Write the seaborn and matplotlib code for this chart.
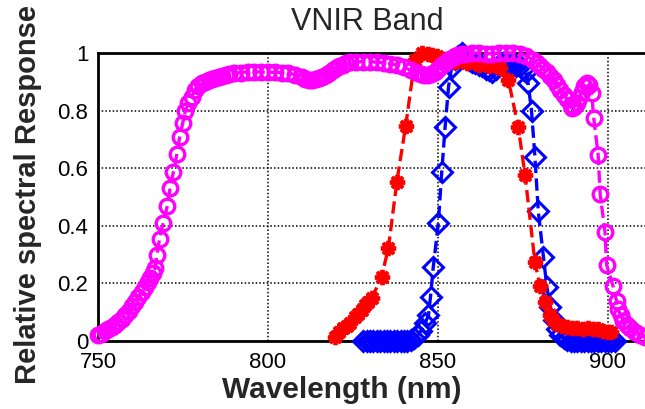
import numpy as np
import pandas as pd
import matplotlib
matplotlib.use("Agg")
import matplotlib.pyplot as plt
import seaborn as sns

# ---------------- data ----------------
mag_wl = [750, 751, 752, 753, 754, 755, 756, 757, 758, 759, 760, 761, 761.9, 763.0,
          763.8, 764.6, 765.3, 766.1, 766.8, 767.3, 768.1, 769.2, 770.4, 771.2, 772.2,
          773.2, 774.0, 774.9, 775.7, 776.6, 777.6, 778.5, 779.5, 780.5, 781.5, 782.5,
          783.5, 784.5, 785.5, 786.5, 787.5, 788.5, 790,
          792, 794, 796, 798, 800, 802, 804, 806, 808, 810, 811, 812, 813, 814, 815,
          816, 817, 818, 819, 820, 821, 822, 823, 824, 826, 828, 830, 832, 834, 836,
          838, 840, 842, 844, 845, 846, 847, 848, 849, 850, 851, 852, 853, 854, 855,
          856, 857, 858, 860, 862, 864, 866, 868, 870, 872, 874, 876, 878, 879, 880,
          881, 882, 883, 884, 885, 886, 887, 888, 889, 889.5, 890, 890.8, 891.5, 892.3,
          893.0, 893.7, 894.5, 895.2, 895.8, 897.1, 897.7, 899.1, 899.6,
          901.5, 902.5, 903.0, 903.7, 904.5, 905.5, 906.5, 908.0, 909.4, 911, 913]
mag_val = [0.02, 0.025, 0.035, 0.04, 0.05, 0.055, 0.065, 0.075, 0.09, 0.105, 0.12, 0.135,
           0.154, 0.17, 0.189, 0.205, 0.218, 0.235, 0.252, 0.299, 0.355, 0.411, 0.469,
           0.53, 0.588, 0.649, 0.707, 0.756, 0.80, 0.825, 0.848, 0.872, 0.885, 0.895,
           0.90, 0.905, 0.91, 0.913, 0.916, 0.92, 0.924, 0.927, 0.93,
           0.932, 0.935, 0.935, 0.934, 0.933, 0.933, 0.932, 0.93, 0.925, 0.915,
           0.91, 0.907, 0.906, 0.908, 0.912, 0.918, 0.925, 0.932, 0.94, 0.948, 0.955,
           0.96, 0.965, 0.968, 0.97, 0.97, 0.97, 0.968, 0.966, 0.963, 0.958, 0.95, 0.94,
           0.932, 0.927, 0.924, 0.924, 0.928, 0.935, 0.945, 0.955, 0.965, 0.975, 0.982,
           0.988, 0.993, 0.996, 0.998, 1.0, 1.0, 0.998, 0.998, 1.0, 1.0, 1.0, 0.998,
           0.99, 0.975, 0.965, 0.955, 0.945, 0.935, 0.92, 0.905, 0.89, 0.87, 0.855,
           0.84, 0.82, 0.81, 0.812, 0.826, 0.845, 0.866, 0.885, 0.895, 0.89, 0.86,
           0.775, 0.646, 0.51, 0.38, 0.264, 0.19, 0.14, 0.11, 0.09, 0.07,
           0.055, 0.045, 0.03, 0.02, 0.015, 0.01]

red_wl = [819.7, 821.0, 822.2, 823.2, 824.1, 825.6, 826.6, 827.6, 828.5, 829.5, 830.5,
          833.4, 835.4, 837.9, 840.5, 843.2, 845.2, 847.0, 848.1, 849.6, 852, 855,
          858.4, 862, 865, 868.2, 870.7, 873.6, 875.6, 878.5, 880.0, 881.5, 883.0,
          883.9, 885.0, 886.5, 888.0, 889.5, 891.0, 892.5, 894.0, 895.5, 897.0, 898.5,
          900.0, 901.0]
red_val = [0.015, 0.03, 0.044, 0.052, 0.061, 0.084, 0.095, 0.108, 0.125, 0.137, 0.148,
           0.223, 0.322, 0.553, 0.748, 0.976, 1.0, 0.995, 0.993, 0.99, 0.98, 0.97,
           0.964, 0.96, 0.955, 0.947, 0.906, 0.744, 0.576, 0.275, 0.19, 0.137, 0.09,
           0.073, 0.06, 0.052, 0.048, 0.045, 0.045, 0.043, 0.045, 0.04, 0.042, 0.035,
           0.03, 0.03]

blue_wl = [828, 829, 830, 831, 832, 833, 834, 835, 836, 837, 838, 839, 840, 841, 842,
           843, 844, 845, 846.2, 847.2, 847.8, 848.6, 850.1, 851.1, 852.1, 853.1, 854,
           855, 856, 857, 858, 859, 860, 861, 862, 863, 864, 865, 866, 867, 868, 869,
           870, 871, 872, 873, 874, 875, 876, 876.5, 877.5, 878.5, 879.5, 881, 882, 883,
           884, 885, 886, 887, 888, 889, 890, 891, 892, 893, 894, 895, 896, 897, 898,
           899, 900, 901, 902]
blue_val = [0.0, 0.0, 0.0, 0.0, 0.0, 0.0, 0.0, 0.0, 0.0, 0.0, 0.0, 0.0, 0.0, 0.0, 0.005,
            0.01, 0.02, 0.035, 0.061, 0.09, 0.154, 0.256, 0.409, 0.588, 0.744, 0.883,
            0.95, 0.98, 0.99, 1.0, 0.99, 0.975, 0.97, 0.965, 0.96, 0.955, 0.945, 0.94,
            0.935, 0.945, 0.96, 0.965, 0.965, 0.96, 0.96, 0.955, 0.955, 0.945, 0.935,
            0.895, 0.80, 0.64, 0.45, 0.293, 0.189, 0.119, 0.073, 0.04, 0.02, 0.01,
            0.005, 0.0, 0.0, 0.0, 0.0, 0.0, 0.0, 0.0, 0.0, 0.0, 0.0, 0.0, 0.0, 0.0, 0.0]

x_ticks = [750, 800, 850, 900]
y_ticks = [0, 0.2, 0.4, 0.6, 0.8, 1.0]
y_tick_labels = ["0", "0.2", "0.4", "0.6", "0.8", "1"]

# ---------------- plotting ----------------
sns.set_style("white")
plt.rcParams['font.family'] = ['Liberation Sans', 'DejaVu Sans']

W, H = 645, 409
fig = plt.figure(figsize=(W / 100, H / 100), dpi=100)
x0, x1 = 98, 676   # pixel positions of 750 and 920
y0, y1 = 341, 53   # pixel positions of 0 and 1
ax = fig.add_axes([x0 / W, (H - y0) / H, (x1 - x0) / W, (y0 - y1) / H])

df_b = pd.DataFrame({"wl": blue_wl, "val": blue_val})
df_r = pd.DataFrame({"wl": red_wl, "val": red_val})
df_m = pd.DataFrame({"wl": mag_wl, "val": mag_val})

sns.lineplot(data=df_b, x="wl", y="val", ax=ax, sort=False, estimator=None,
             color="#0000ff", linestyle="--", linewidth=2.4, marker="D",
             markersize=10, markerfacecolor="none", markeredgecolor="#0000ff",
             markeredgewidth=2.2, zorder=3, clip_on=False)
sns.lineplot(data=df_r, x="wl", y="val", ax=ax, sort=False, estimator=None,
             color="#ff0000", linestyle="--", linewidth=2.4, marker=(8, 2, 0),
             markersize=11, markeredgecolor="#ff0000", markeredgewidth=2.8, zorder=4,
             clip_on=False)
sns.lineplot(data=df_m, x="wl", y="val", ax=ax, sort=False, estimator=None,
             color="#ff00ff", linestyle="--", linewidth=2.4, marker="o",
             markersize=10.5, markerfacecolor="none", markeredgecolor="#ff00ff",
             markeredgewidth=2.4, zorder=5, clip_on=False)

ax.set_xlim(750, 920)
ax.set_ylim(0, 1)
ax.set_xticks(x_ticks)
ax.set_yticks(y_ticks)
ax.set_yticklabels(y_tick_labels)
ax.tick_params(axis="both", direction="in", length=4, width=1, labelsize=16,
               colors="black", pad=7)
ax.tick_params(axis="x", pad=8)
ax.grid(True, color="black", linestyle=(0, (1.0, 1.4)), linewidth=1.1)
ax.set_axisbelow(True)
for s in ax.spines.values():
    s.set_color("black")
    s.set_linewidth(2)
ax.spines["right"].set_visible(False)

ax.set_xlabel("Wavelength (nm)", fontsize=21.5, fontweight="bold")
ax.xaxis.set_label_coords((342 - x0) / (x1 - x0), (y0 - 390) / (y0 - y1))
ax.xaxis.label.set_va("center")
ax.set_ylabel("Relative spectral Response", fontsize=21, fontweight="bold")
ax.yaxis.set_label_coords((28 - x0) / (x1 - x0), (y0 - 195) / (y0 - y1))
ax.yaxis.label.set_va("center")

fig.text(367 / W, 1 - 22 / H, "VNIR Band", fontsize=22, ha="center", va="center")

fig.savefig("out.png", dpi=100)
